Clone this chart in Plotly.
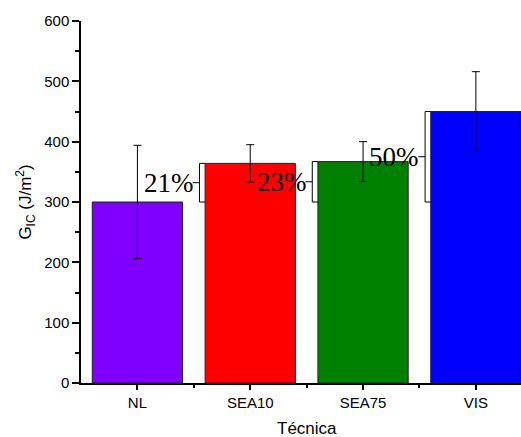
import plotly.graph_objects as go

categories = ["NL", "SEA10", "SEA75", "VIS"]
gic_values = [300, 364, 367, 450]
gic_errors = [94, 31, 33, 66]
bar_colors = ["#7F00FF", "#FF0000", "#008000", "#0000FF"]
gain_labels = ["21%", "23%", "50%"]  # relative to NL, for SEA10, SEA75, VIS

y_ticks = [0, 100, 200, 300, 400, 500, 600]

SANS = "Liberation Sans, Arial, sans-serif"
BAR_W = 0.8
fig = go.Figure()
fig.add_trace(go.Bar(
    x=list(range(len(categories))),
    y=gic_values,
    width=BAR_W,
    marker=dict(color=bar_colors, line=dict(color="#222222", width=1)),
    error_y=dict(type="data", array=gic_errors, visible=True,
                 color="black", thickness=1, width=4),
    showlegend=False,
))

# brackets + percentage labels
base = gic_values[0]
gap = 0.05
nub = 0.06
for i, lab in enumerate(gain_labels, start=1):
    top = gic_values[i]
    left = i - BAR_W / 2
    bx = left - gap
    mid = (base + top) / 2
    path = (f"M {left} {top} L {bx} {top} L {bx} {base} L {left} {base} "
            f"M {bx} {mid} L {bx - nub} {mid}")
    fig.add_shape(type="path", path=path, xref="x", yref="y",
                  line=dict(color="black", width=1))
    fig.add_annotation(x=bx - nub, y=mid, xref="x", yref="y", text=lab,
                       showarrow=False, xanchor="right", yanchor="middle",
                       xshift=3,
                       font=dict(family="Liberation Serif, Times New Roman, serif",
                                 size=27, color="black"))

# x-axis title as annotation centered on full axis
fig.add_annotation(x=1.5, y=0, xref="x", yref="paper", text="Técnica",
                   showarrow=False, xanchor="center", yanchor="top", yshift=-34,
                   font=dict(family=SANS, size=17, color="black"))

fig.update_layout(
    width=521, height=437,
    margin=dict(l=81, r=0, t=21, b=54),
    plot_bgcolor="white", paper_bgcolor="white",
    font=dict(family=SANS, size=15, color="black"),
    bargap=0.2,
)
fig.update_xaxes(
    range=[-0.5, 3.4],
    tickmode="array", tickvals=list(range(len(categories))), ticktext=categories,
    ticks="outside", ticklen=5, tickwidth=1.5, tickcolor="black",
    minor=dict(tickmode="array", tickvals=[0.5, 1.5, 2.5], ticks="outside",
               ticklen=3, tickwidth=1.5, tickcolor="black"),
    showline=True, linecolor="black", linewidth=2,
    showgrid=False, zeroline=False,
    tickfont=dict(size=15),
)
fig.update_yaxes(
    range=[0, 600],
    tickmode="array", tickvals=y_ticks,
    ticks="outside", ticklen=7, tickwidth=1.5, tickcolor="black",
    minor=dict(tickmode="array", tickvals=[50, 150, 250, 350, 450, 550],
               ticks="outside", ticklen=4, tickwidth=1.5, tickcolor="black"),
    showline=True, linecolor="black", linewidth=1.5,
    showgrid=False, zeroline=False,
    tickfont=dict(size=15),
    title=dict(text="G<sub>IC</sub> (J/m<sup>2</sup>)", font=dict(size=17), standoff=8),
)

fig.write_html("out.html", config={"displayModeBar": False},
               post_script="document.body.style.margin='0';document.body.style.overflow='hidden';")
